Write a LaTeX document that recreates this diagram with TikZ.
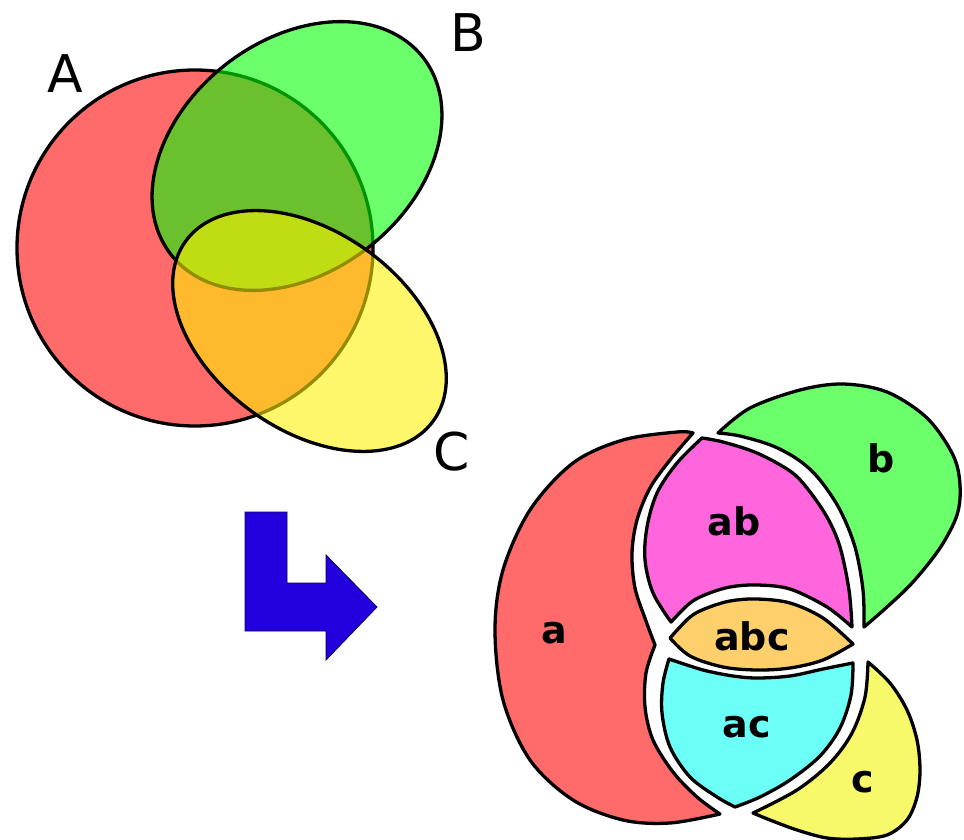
\documentclass[tikz,border=0pt]{standalone}
\usepackage{fontspec}
\setmainfont{DejaVu Sans}
\definecolor{ra}{RGB}{255,107,107}
\definecolor{rab}{RGB}{255,102,221}
\definecolor{rb}{RGB}{107,255,107}
\definecolor{rabc}{RGB}{253,208,107}
\definecolor{rac}{RGB}{107,255,248}
\definecolor{rc}{RGB}{248,248,107}
\definecolor{arrowblue}{RGB}{34,0,221}
\tikzset{
  setline/.style={draw=black, line width=3.3pt},
  region/.style={draw=black, line width=3.3pt, line join=round},
  toplbl/.style={font=\fontsize{52}{60}\selectfont, inner sep=0pt},
  botlbl/.style={font=\bfseries\fontsize{38}{44}\selectfont, inner sep=0pt},
  sm/.style={smooth, tension=0.55}
}
\begin{document}
\begin{tikzpicture}[x=1pt,y=-1pt]
\useasboundingbox (0,0) rectangle (964,840);
% ---------- top Venn diagram ----------
\coordinate (Ac) at (195,248);
\coordinate (Bc) at (297,156);
\coordinate (Cc) at (309.5,331);
\draw[setline, fill=red, fill opacity=0.58] (Ac) circle [radius=178pt];
\draw[setline, fill=green, fill opacity=0.58, rotate around={38:(Bc)}] (Bc) ellipse [x radius=160pt, y radius=116pt];
\draw[setline, fill=yellow, fill opacity=0.58, rotate around={-36:(Cc)}] (Cc) ellipse [x radius=153pt, y radius=99pt];
\node[toplbl] (lA) at (65,74) {A};
\node[toplbl] (lB) at (468,33) {B};
\node[toplbl] (lC) at (452,452) {C};
% ---------- arrow ----------
\draw[fill=arrowblue, draw=black!60!arrowblue, line width=0.8pt, line join=miter]
  (245,512) -- (287,512) -- (287,583) -- (326,583) -- (326,555) -- (377,607)
  -- (326,660) -- (326,631) -- (245,631) -- cycle;
% ---------- bottom separated regions ----------
% a
\draw[region, fill=ra]
  plot[sm] coordinates {(693,433) (677,432) (623,440) (573,463) (530,510) (503,570) (495,630) (503,700) (530,760) (573,800) (623,820) (670,823) (720,814)}
  -- plot[sm] coordinates {(720,814) (697,797) (673,772) (653,740) (645,707) (646,673) (655,645)}
  -- plot[sm] coordinates {(655,645) (646,621) (635,588) (632,553) (637,520) (650,488) (670,460) (693,433)}
  -- cycle;
% ab
\draw[region, fill=rab]
  plot[sm] coordinates {(702,438) (677,463) (657,493) (647,527) (645,560) (653,593) (671,622)}
  -- plot[sm] coordinates {(671,622) (690,603) (707,594) (730,587) (757,585) (790,589) (827,607) (852,627)}
  -- plot[sm] coordinates {(852,627) (849,590) (840,547) (827,517) (807,488) (790,471) (757,453) (723,442) (702,438)}
  -- cycle;
% b
\draw[region, fill=rb]
  plot[sm] coordinates {(718,433) (750,408) (800,390) (843,384) (887,392) (927,418) (953,455) (960,485) (957,515) (940,548) (913,582) (887,607) (864,627)}
  -- plot[sm] coordinates {(864,627) (863,590) (855,547) (840,510) (820,480) (800,461) (773,446) (740,436) (718,433)}
  -- cycle;
% abc
\draw[region, fill=rabc]
  plot[sm] coordinates {(670,638) (690,617) (707,608) (730,601) (757,599) (790,603) (823,618) (853,644)}
  -- plot[sm] coordinates {(853,644) (823,660) (790,668) (757,670) (723,667) (690,656) (670,638)}
  -- cycle;
% ac
\draw[region, fill=rac]
  plot[sm] coordinates {(669,659) (690,666) (707,671) (733,676) (757,678) (790,676) (823,669) (853,663)}
  -- plot[sm] coordinates {(853,663) (851,695) (840,728) (820,756) (790,780) (760,797) (735,807)}
  -- plot[sm] coordinates {(735,807) (717,797) (690,777) (670,747) (662,713) (663,683) (669,659)}
  -- cycle;
% c
\draw[region, fill=rc]
  plot[sm] coordinates {(868,662) (890,683) (907,710) (917,740) (920,770) (917,797) (907,820) (887,835) (857,839) (827,838) (797,830) (770,820) (753,813)}
  -- plot[sm] coordinates {(753,813) (797,790) (830,763) (852,733) (865,697) (868,662)}
  -- cycle;
% labels
\node[botlbl] (la) at (554,633) {a};
\node[botlbl] (lab) at (734,521) {ab};
\node[botlbl] (lb) at (881,458) {b};
\node[botlbl] (labc) at (752,636) {abc};
\node[botlbl] (lac) at (747,727) {ac};
\node[botlbl] (lc) at (863,782) {c};
\end{tikzpicture}
\end{document}
